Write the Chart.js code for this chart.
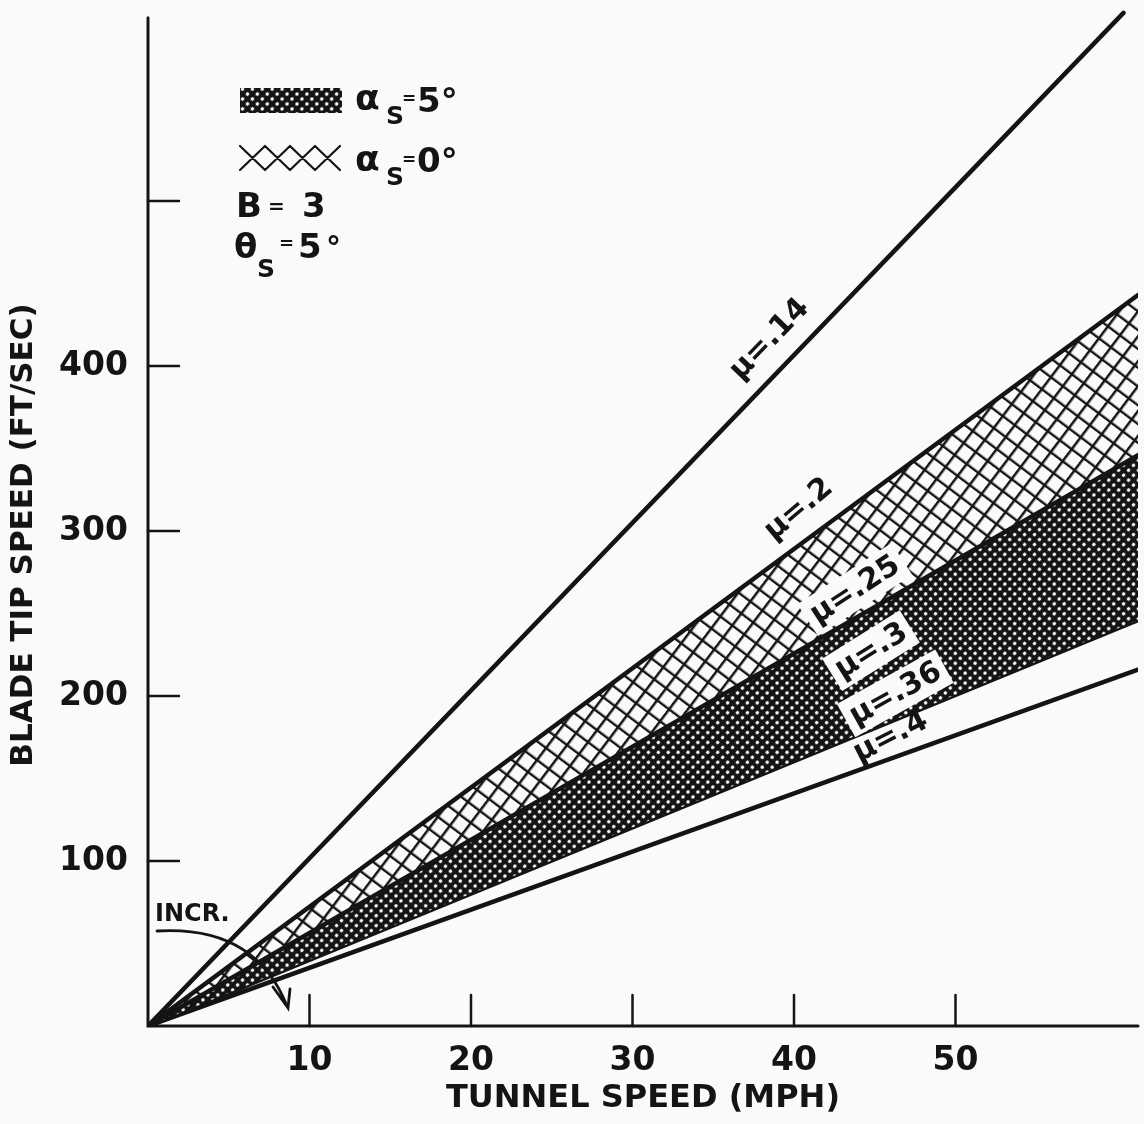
<!DOCTYPE html>
<html>
<head>
<meta charset="utf-8">
<script src="https://cdn.jsdelivr.net/npm/chart.js@4.4.0/dist/chart.umd.min.js"></script>
<style>
  html, body { margin: 0; padding: 0; background: #fafafa; }
  #wrap { width: 1144px; height: 1124px; position: relative; }
</style>
</head>
<body>
<div id="wrap"><canvas id="myChart"></canvas></div>
<script>
// lines of constant advance ratio, each from the origin to its right-hand end
const muLabels = ['μ=.14', 'μ=.2', 'μ=.25', 'μ=.3', 'μ=.36', 'μ=.4'];
const tunnelEnd = [60.4, 61.3, 61.3, 61.3, 61.3, 61.3];   // MPH
const tipEnd = [614, 443, 346, 288, 246, 216];            // FT/SEC

const xTicks = [10, 20, 30, 40, 50];
const xTickLabels = ['10', '20', '30', '40', '50'];
const yTicks = [100, 200, 300, 400, 500];
const yTickLabels = ['100', '200', '300', '400', ''];

const INK = '#141414';
const PAPER = '#fafafa';
const FONT = '"DejaVu Sans", sans-serif';

function coarseHatch() {
  const c = document.createElement('canvas');
  c.width = c.height = 15;
  const g = c.getContext('2d');
  g.strokeStyle = INK;
  g.lineWidth = 2.4;
  g.beginPath();
  g.moveTo(0, 1.2); g.lineTo(15, 1.2);
  g.moveTo(1.2, 0); g.lineTo(1.2, 15);
  g.stroke();
  const p = g.createPattern(c, 'repeat');
  p.setTransform(new DOMMatrix().rotateSelf(-53));
  return p;
}

function denseHatch() {
  const c = document.createElement('canvas');
  c.width = c.height = 7;
  const g = c.getContext('2d');
  g.fillStyle = INK;
  g.fillRect(0, 0, 7, 7);
  g.fillStyle = PAPER;
  g.beginPath();
  g.arc(3.5, 3.5, 1.8, 0, Math.PI * 2);
  g.fill();
  const p = g.createPattern(c, 'repeat');
  p.setTransform(new DOMMatrix().rotateSelf(-45));
  return p;
}

const coarse = coarseHatch();
const dense = denseHatch();

const datasets = muLabels.map((lab, i) => ({
  label: lab,
  data: [{ x: 0, y: 0 }, { x: tunnelEnd[i], y: tipEnd[i] }],
  borderColor: INK,
  borderWidth: 4.5,
  borderCapStyle: 'round',
  pointRadius: 0,
  tension: 0,
  fill: false
}));
// alpha_s = 0 band between mu=.2 and mu=.25, alpha_s = 5 band between mu=.25 and mu=.36
datasets[1].fill = 2;
datasets[1].backgroundColor = coarse;
datasets[2].fill = 4;
datasets[2].backgroundColor = dense;

// pieces of text written with explicit sizes
function piece(ctx, txt, x, y, size) {
  ctx.font = 'bold ' + size + 'px ' + FONT;
  ctx.fillText(txt, x, y);
}

const paper = {
  id: 'paper',
  beforeDraw(chart) {
    const ctx = chart.ctx;
    ctx.save();
    ctx.fillStyle = PAPER;
    ctx.fillRect(0, 0, chart.width, chart.height);
    ctx.restore();
  },
  afterDraw(chart) {
    const ctx = chart.ctx;
    const xs = chart.scales.x, ys = chart.scales.y;
    const x0 = xs.getPixelForValue(0), y0 = ys.getPixelForValue(0);
    ctx.save();
    ctx.strokeStyle = INK;
    ctx.fillStyle = INK;
    ctx.lineCap = 'round';

    // axes
    ctx.lineWidth = 3;
    ctx.beginPath();
    ctx.moveTo(x0, ys.getPixelForValue(611));
    ctx.lineTo(x0, y0);
    ctx.lineTo(xs.getPixelForValue(xs.max), y0);
    ctx.stroke();

    // inward ticks
    ctx.lineWidth = 2.5;
    ctx.beginPath();
    yTicks.forEach(v => {
      const py = ys.getPixelForValue(v);
      ctx.moveTo(x0, py); ctx.lineTo(x0 + 31, py);
    });
    xTicks.forEach(v => {
      const px = xs.getPixelForValue(v);
      ctx.moveTo(px, y0); ctx.lineTo(px, y0 - 31);
    });
    ctx.stroke();

    // y axis title
    ctx.save();
    ctx.translate(24, 535);
    ctx.rotate(-Math.PI / 2);
    ctx.textAlign = 'center';
    ctx.textBaseline = 'middle';
    ctx.font = 'bold 31px ' + FONT;
    ctx.fillText('BLADE TIP SPEED (FT/SEC)', 0, 0);
    ctx.restore();

    // labels along the lines
    const tags = [
      { x: 38.5, y: 416, a: -46, knock: false },
      { x: 40.3, y: 313, a: -40, knock: false },
      { x: 43.8, y: 264, a: -33, knock: true },
      { x: 44.8, y: 227, a: -32, knock: true },
      { x: 46.3, y: 201, a: -29, knock: true },
      { x: 46.0, y: 175, a: -27, knock: false }
    ];
    ctx.textAlign = 'center';
    ctx.textBaseline = 'middle';
    tags.forEach((t, i) => {
      ctx.save();
      ctx.translate(xs.getPixelForValue(t.x), ys.getPixelForValue(t.y));
      ctx.rotate(t.a * Math.PI / 180);
      ctx.font = 'bold 30px ' + FONT;
      const w = ctx.measureText(muLabels[i]).width;
      if (t.knock) {
        ctx.fillStyle = PAPER;
        ctx.fillRect(-w / 2 - 6, -20, w + 12, 38);
      }
      ctx.fillStyle = INK;
      ctx.fillText(muLabels[i], 0, 0);
      ctx.restore();
    });

    // key, top left
    ctx.textAlign = 'left';
    ctx.textBaseline = 'alphabetic';
    ctx.fillStyle = dense;
    ctx.fillRect(240, 88, 102, 25);
    ctx.strokeStyle = INK;
    ctx.lineWidth = 2.2;
    ctx.beginPath();
    for (let k = 0; k < 4; k++) {
      const a = 240 + k * 25;
      ctx.moveTo(a, 146); ctx.lineTo(a + 25, 170);
      ctx.moveTo(a, 170); ctx.lineTo(a + 25, 146);
    }
    ctx.stroke();

    ctx.fillStyle = INK;
    piece(ctx, 'α', 355, 110, 36);
    piece(ctx, 'S', 386, 124, 25);
    piece(ctx, '=', 402, 104, 17);
    piece(ctx, '5°', 417, 112, 34);

    piece(ctx, 'α', 355, 171, 36);
    piece(ctx, 'S', 386, 185, 25);
    piece(ctx, '=', 402, 165, 17);
    piece(ctx, '0°', 417, 172, 34);

    piece(ctx, 'B', 236, 217, 34);
    piece(ctx, '=', 268, 213, 20);
    piece(ctx, '3', 302, 217, 34);

    piece(ctx, 'θ', 234, 258, 34);
    piece(ctx, 'S', 257, 277, 25);
    piece(ctx, '=', 279, 249, 18);
    piece(ctx, '5', 298, 258, 34);
    piece(ctx, '°', 326, 258, 30);

    // INCR. note with curved arrow
    ctx.font = 'bold 24px ' + FONT;
    ctx.fillText('INCR.', 155, 921);
    ctx.lineWidth = 2.8;
    ctx.beginPath();
    ctx.moveTo(157, 931);
    ctx.quadraticCurveTo(255, 925, 287, 1006);
    ctx.moveTo(273, 987);
    ctx.lineTo(288, 1008);
    ctx.lineTo(290, 989);
    ctx.stroke();

    ctx.restore();
  }
};

new Chart(document.getElementById('myChart'), {
  type: 'line',
  data: { datasets },
  options: {
    responsive: true,
    maintainAspectRatio: false,
    animation: false,
    layout: { padding: { top: 3, right: 6, left: 0, bottom: 0 } },
    plugins: { legend: { display: false }, tooltip: { enabled: false } },
    scales: {
      x: {
        type: 'linear',
        min: 0,
        max: 61.3,
        border: { display: false },
        grid: { display: false },
        afterBuildTicks: s => { s.ticks = xTicks.map(v => ({ value: v })); },
        afterFit: s => { s.height = 98; s.paddingLeft = 0; s.paddingRight = 0; },
        ticks: {
          padding: 8,
          color: INK,
          font: { family: FONT, size: 33, weight: 'bold' },
          maxRotation: 0,
          callback: v => xTickLabels[xTicks.indexOf(v)]
        },
        title: {
          display: true,
          text: 'TUNNEL SPEED (MPH)',
          color: INK,
          font: { family: FONT, size: 32, weight: 'bold' },
          padding: { top: 0, bottom: 6 }
        }
      },
      y: {
        min: 0,
        max: 620,
        border: { display: false },
        grid: { display: false },
        afterBuildTicks: s => { s.ticks = yTicks.map(v => ({ value: v })); },
        afterFit: s => { s.width = 148; s.paddingTop = 0; s.paddingBottom = 0; },
        ticks: {
          padding: 12,
          color: INK,
          font: { family: FONT, size: 33, weight: 'bold' },
          callback: v => yTickLabels[yTicks.indexOf(v)]
        }
      }
    }
  },
  plugins: [paper]
});
</script>
</body>
</html>
